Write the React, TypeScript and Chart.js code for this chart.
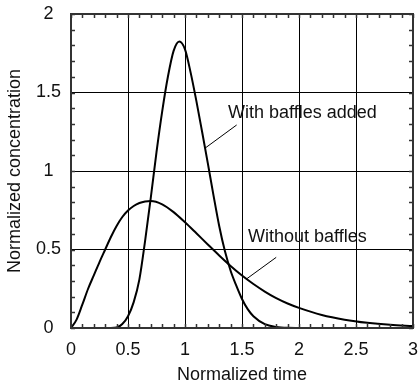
import React, { useEffect, useRef } from "react";
import { Chart, registerables } from "chart.js";

Chart.register(...registerables);

// With baffles added
const bafflesX = [0, 0.3, 0.35, 0.4, 0.45, 0.5, 0.55, 0.6, 0.65, 0.7, 0.75, 0.8, 0.85, 0.9, 0.95, 1.0, 1.05, 1.1, 1.15, 1.2, 1.25, 1.3, 1.35, 1.4, 1.45, 1.5, 1.55, 1.6, 1.7, 1.8, 1.9, 2.0, 2.1];
const bafflesY = [0, 0, 0, 0.003, 0.025, 0.075, 0.165, 0.31, 0.555, 0.83, 1.12, 1.38, 1.6, 1.765, 1.825, 1.775, 1.625, 1.445, 1.25, 1.05, 0.845, 0.65, 0.49, 0.365, 0.27, 0.185, 0.12, 0.075, 0.025, 0.007, 0.001, 0, 0];

// Without baffles
const noBafflesX = [0, 0.05, 0.1, 0.15, 0.2, 0.25, 0.3, 0.35, 0.4, 0.45, 0.5, 0.55, 0.6, 0.65, 0.7, 0.8, 0.9, 1.0, 1.1, 1.2, 1.3, 1.4, 1.5, 1.6, 1.7, 1.8, 1.9, 2.0, 2.2, 2.4, 2.6, 2.8, 3.0];
const noBafflesY = [0, 0.055, 0.15, 0.25, 0.335, 0.42, 0.5, 0.58, 0.65, 0.707, 0.748, 0.777, 0.796, 0.806, 0.809, 0.788, 0.738, 0.673, 0.603, 0.532, 0.462, 0.395, 0.334, 0.28, 0.232, 0.19, 0.156, 0.128, 0.083, 0.053, 0.033, 0.02, 0.012];

// Annotations (data units)
const labelTexts = ["With baffles added", "Without baffles"];
const labelX = [1.377, 1.553];
const labelY = [1.336, 0.55];
const leaderFromX = [1.453, 1.8];
const leaderFromY = [1.293, 0.45];
const leaderToX = [1.175, 1.537];
const leaderToY = [1.145, 0.311];

const FONT = "'Liberation Sans', Arial, Helvetica, sans-serif";

const overlayPlugin = {
  id: "overlay",
  afterDraw(chart: any) {
    const ctx = chart.ctx;
    const xs = chart.scales.x;
    const ys = chart.scales.y;
    const { left, right, top, bottom } = chart.chartArea;
    ctx.save();
    // minor ticks
    ctx.strokeStyle = "#333";
    ctx.lineWidth = 1.5;
    ctx.beginPath();
    for (let i = 0; i <= 30; i++) {
      const px = Math.round(xs.getPixelForValue(i / 10)) + 0.5;
      ctx.moveTo(px, bottom);
      ctx.lineTo(px, bottom - 4);
      ctx.moveTo(px, top);
      ctx.lineTo(px, top + 4);
    }
    for (let i = 0; i <= 20; i++) {
      const py = Math.round(ys.getPixelForValue(i / 10)) + 0.5;
      ctx.moveTo(left, py);
      ctx.lineTo(left + 4, py);
      ctx.moveTo(right, py);
      ctx.lineTo(right - 4, py);
    }
    ctx.stroke();
    // frame
    ctx.strokeStyle = "#333";
    ctx.lineWidth = 2;
    ctx.strokeRect(left, top, right - left, bottom - top);
    // leader lines
    ctx.strokeStyle = "#000";
    ctx.lineWidth = 1;
    ctx.beginPath();
    for (let i = 0; i < leaderFromX.length; i++) {
      ctx.moveTo(xs.getPixelForValue(leaderFromX[i]), ys.getPixelForValue(leaderFromY[i]));
      ctx.lineTo(xs.getPixelForValue(leaderToX[i]), ys.getPixelForValue(leaderToY[i]));
    }
    ctx.stroke();
    // labels
    ctx.fillStyle = "#111";
    ctx.font = `18px ${FONT}`;
    ctx.textAlign = "left";
    ctx.textBaseline = "alphabetic";
    for (let i = 0; i < labelTexts.length; i++) {
      ctx.fillText(labelTexts[i], xs.getPixelForValue(labelX[i]), ys.getPixelForValue(labelY[i]));
    }
    ctx.restore();
  },
};

export default function App() {
  const ref = useRef<HTMLCanvasElement>(null);
  useEffect(() => {
    document.body.style.margin = "0";
    const chart = new Chart(ref.current as HTMLCanvasElement, {
      type: "line",
      data: {
        datasets: [
          {
            label: "With baffles added",
            data: bafflesX.map((x, i) => ({ x, y: bafflesY[i] })),
            borderColor: "#000",
            borderWidth: 2,
            pointRadius: 0,
            cubicInterpolationMode: "monotone",
            fill: false,
          },
          {
            label: "Without baffles",
            data: noBafflesX.map((x, i) => ({ x, y: noBafflesY[i] })),
            borderColor: "#000",
            borderWidth: 2,
            pointRadius: 0,
            cubicInterpolationMode: "monotone",
            fill: false,
          },
        ],
      },
      options: {
        responsive: false,
        animation: false,
        layout: { padding: { left: 0, right: 5, top: 14, bottom: 0 } },
        plugins: { legend: { display: false }, tooltip: { enabled: false } },
        scales: {
          x: {
            type: "linear",
            min: 0,
            max: 3,
            afterFit: (s: any) => {
              s.height = 64;
              s.paddingLeft = 0;
              s.paddingRight = 0;
            },
            ticks: {
              stepSize: 0.5,
              padding: 11,
              color: "#111",
              font: { family: FONT, size: 18 },
              maxRotation: 0,
              callback: (v: any) => String(v),
            },
            grid: { color: "#000", lineWidth: 1, drawTicks: false },
            border: { display: false },
            title: {
              display: true,
              text: "Normalized time",
              color: "#111",
              font: { family: FONT, size: 18 },
              padding: { top: 0, bottom: 6 },
            },
          },
          y: {
            type: "linear",
            min: 0,
            max: 2,
            afterFit: (s: any) => {
              s.width = 71;
              s.paddingTop = 0;
              s.paddingBottom = 0;
            },
            ticks: {
              stepSize: 0.5,
              padding: 10,
              crossAlign: "center",
              color: "#111",
              font: { family: FONT, size: 18 },
              callback: (v: any) => String(v),
            },
            grid: { color: "#000", lineWidth: 1, drawTicks: false },
            border: { display: false },
            title: {
              display: true,
              text: "Normalized concentration",
              color: "#111",
              font: { family: FONT, size: 18 },
              padding: { top: 4, bottom: 0 },
            },
          },
        },
      },
      plugins: [overlayPlugin],
    } as any);
    return () => chart.destroy();
  }, []);
  return (
    <div style={{ width: 418, height: 392 }}>
      <canvas ref={ref} width={418} height={392} />
    </div>
  );
}
